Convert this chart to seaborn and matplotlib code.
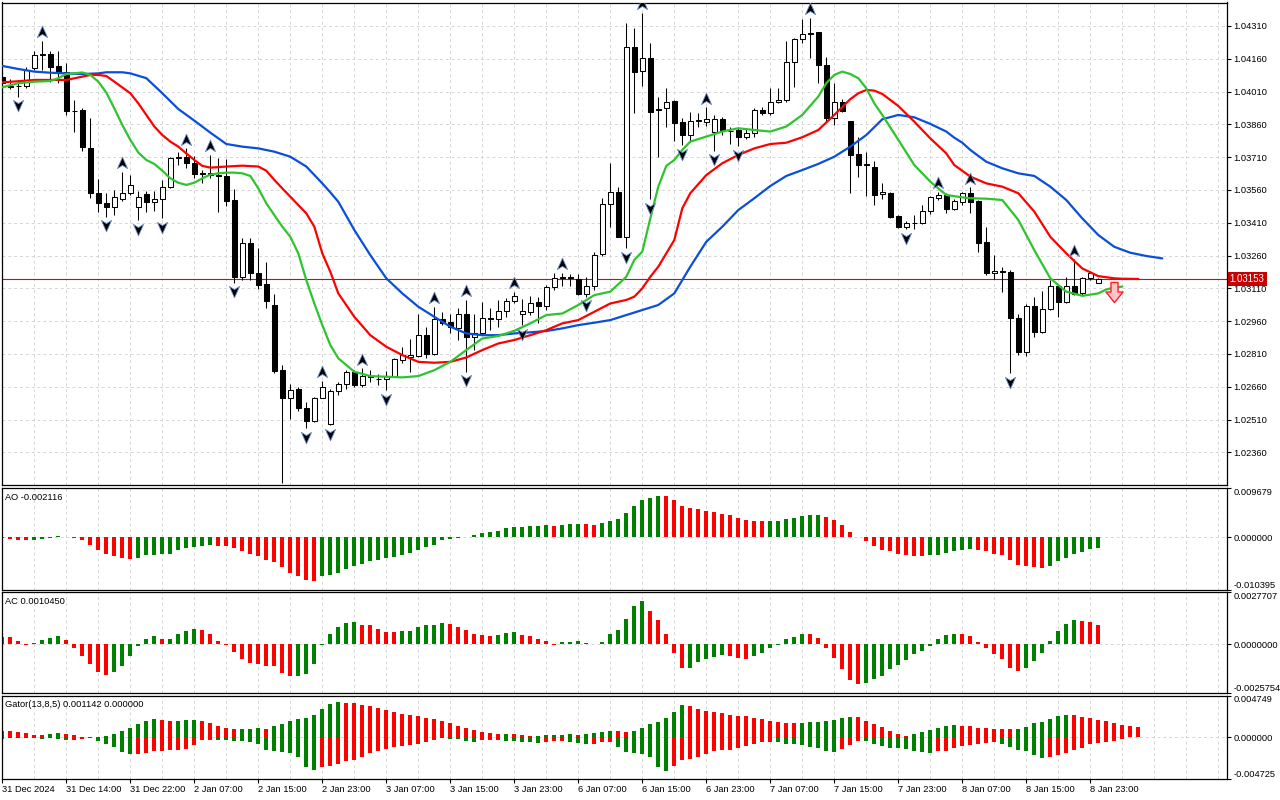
import numpy as np
import seaborn as sns
import matplotlib
matplotlib.use('Agg')
import matplotlib.pyplot as plt
from matplotlib.path import Path

# ---- EURUSD H1 candles, 31 Dec 2024 .. 8 Jan 2025 ----
open_ = [1.04078, 1.04035, 1.04036, 1.04036, 1.04116, 1.04177, 1.04180, 1.04127, 1.04097, 1.03923,
         1.03926, 1.03750, 1.03545, 1.03502, 1.03484, 1.03520, 1.03545, 1.03484, 1.03540, 1.03503,
         1.03517, 1.03572, 1.03705, 1.03712, 1.03685, 1.03631, 1.03636, 1.03627, 1.03624, 1.03514,
         1.03163, 1.03316, 1.03179, 1.03130, 1.03034, 1.02739, 1.02607, 1.02649, 1.02561, 1.02505,
         1.02611, 1.02489, 1.02642, 1.02675, 1.02726, 1.02668, 1.02709, 1.02697, 1.02695, 1.02710,
         1.02782, 1.02798, 1.02800, 1.02899, 1.02809, 1.02968, 1.02954, 1.02927, 1.02995, 1.02886,
         1.02904, 1.02976, 1.02970, 1.03008, 1.03052, 1.02995, 1.03003, 1.03046, 1.03029, 1.03115,
         1.03156, 1.03160, 1.03151, 1.03084, 1.03122, 1.03267, 1.03496, 1.03552, 1.03346, 1.04212,
         1.04106, 1.04162, 1.03925, 1.03933, 1.03967, 1.03869, 1.03811, 1.03877, 1.03872, 1.03827,
         1.03885, 1.03830, 1.03834, 1.03804, 1.03819, 1.03926, 1.03911, 1.03961, 1.03969, 1.04144,
         1.04249, 1.04273, 1.04280, 1.04132, 1.03888, 1.03961, 1.03875, 1.03724, 1.03674, 1.03667,
         1.03540, 1.03548, 1.03441, 1.03389, 1.03407, 1.03410, 1.03462, 1.03523, 1.03538, 1.03471,
         1.03506, 1.03548, 1.03511, 1.03322, 1.03182, 1.03189, 1.03186, 1.02973, 1.02820, 1.03029,
         1.02909, 1.03014, 1.03121, 1.03049, 1.03122, 1.03087, 1.03156, 1.03136]
high = [1.04086, 1.04069, 1.04063, 1.04124, 1.04193, 1.04243, 1.04193, 1.04193, 1.04142, 1.03972,
        1.03933, 1.03888, 1.03609, 1.03548, 1.03560, 1.03644, 1.03628, 1.03557, 1.03555, 1.03557,
        1.03606, 1.03712, 1.03735, 1.03750, 1.03715, 1.03651, 1.03720, 1.03705, 1.03700, 1.03563,
        1.03339, 1.03339, 1.03293, 1.03232, 1.03082, 1.02759, 1.02675, 1.02660, 1.02591, 1.02614,
        1.02686, 1.02652, 1.02683, 1.02736, 1.02739, 1.02744, 1.02736, 1.02718, 1.02732, 1.02790,
        1.02840, 1.02877, 1.02995, 1.02932, 1.03026, 1.03003, 1.02995, 1.03018, 1.03057, 1.02995,
        1.03049, 1.03018, 1.03057, 1.03064, 1.03095, 1.03060, 1.03075, 1.03072, 1.03125, 1.03179,
        1.03182, 1.03175, 1.03175, 1.03163, 1.03278, 1.03522, 1.03682, 1.03575, 1.04322, 1.04299,
        1.04368, 1.04231, 1.03984, 1.04025, 1.03972, 1.03888, 1.03915, 1.03914, 1.03938, 1.03903,
        1.03892, 1.03850, 1.03842, 1.03842, 1.03933, 1.03941, 1.04025, 1.04025, 1.04243, 1.04254,
        1.04342, 1.04345, 1.04284, 1.04170, 1.04051, 1.03975, 1.03877, 1.03804, 1.03735, 1.03692,
        1.03593, 1.03552, 1.03444, 1.03419, 1.03445, 1.03491, 1.03532, 1.03552, 1.03548, 1.03517,
        1.03552, 1.03572, 1.03514, 1.03392, 1.03262, 1.03209, 1.03194, 1.02995, 1.03038, 1.03072,
        1.03099, 1.03148, 1.03130, 1.03160, 1.03243, 1.03163, 1.03191, 1.03156]
low = [1.04040, 1.04020, 1.03987, 1.04025, 1.04109, 1.04109, 1.04055, 1.04048, 1.03903, 1.03827,
       1.03740, 1.03522, 1.03461, 1.03438, 1.03445, 1.03509, 1.03537, 1.03423, 1.03461, 1.03464,
       1.03430, 1.03567, 1.03674, 1.03659, 1.03613, 1.03593, 1.03613, 1.03458, 1.03488, 1.03136,
       1.03148, 1.03148, 1.03105, 1.03018, 1.02721, 1.02218, 1.02511, 1.02550, 1.02472, 1.02500,
       1.02607, 1.02485, 1.02622, 1.02652, 1.02660, 1.02660, 1.02683, 1.02668, 1.02645, 1.02706,
       1.02767, 1.02729, 1.02797, 1.02790, 1.02805, 1.02942, 1.02904, 1.02874, 1.02729, 1.02828,
       1.02896, 1.02919, 1.02935, 1.02980, 1.03041, 1.02942, 1.02988, 1.02950, 1.03011, 1.03102,
       1.03121, 1.03121, 1.03079, 1.03072, 1.03102, 1.03258, 1.03392, 1.03343, 1.03293, 1.03914,
       1.04036, 1.03517, 1.03709, 1.03850, 1.03785, 1.03766, 1.03781, 1.03850, 1.03854, 1.03740,
       1.03811, 1.03770, 1.03761, 1.03792, 1.03801, 1.03903, 1.03903, 1.03956, 1.03964, 1.04029,
       1.04234, 1.04162, 1.04048, 1.03872, 1.03857, 1.03918, 1.03548, 1.03621, 1.03532, 1.03491,
       1.03517, 1.03433, 1.03384, 1.03380, 1.03383, 1.03404, 1.03450, 1.03514, 1.03456, 1.03468,
       1.03491, 1.03456, 1.03278, 1.03171, 1.03151, 1.03095, 1.02724, 1.02805, 1.02800, 1.02886,
       1.02904, 1.03011, 1.02977, 1.03044, 1.03079, 1.03079, 1.03148, 1.03136]
close = [1.04048, 1.04032, 1.04034, 1.04109, 1.04177, 1.04182, 1.04124, 1.04094, 1.03923, 1.03921,
         1.03755, 1.03545, 1.03499, 1.03484, 1.03527, 1.03545, 1.03583, 1.03529, 1.03503, 1.03517,
         1.03572, 1.03705, 1.03711, 1.03685, 1.03631, 1.03636, 1.03627, 1.03624, 1.03511, 1.03163,
         1.03316, 1.03179, 1.03125, 1.03053, 1.02733, 1.02607, 1.02645, 1.02561, 1.02505, 1.02611,
         1.02660, 1.02642, 1.02675, 1.02726, 1.02668, 1.02709, 1.02706, 1.02694, 1.02710, 1.02785,
         1.02805, 1.02805, 1.02899, 1.02809, 1.02968, 1.02953, 1.02932, 1.02995, 1.02886, 1.02904,
         1.02976, 1.02970, 1.03008, 1.03052, 1.03075, 1.03008, 1.03044, 1.03029, 1.03118, 1.03156,
         1.03160, 1.03159, 1.03084, 1.03122, 1.03262, 1.03496, 1.03552, 1.03346, 1.04212, 1.04101,
         1.04162, 1.03918, 1.03929, 1.03961, 1.03868, 1.03811, 1.03877, 1.03878, 1.03885, 1.03885,
         1.03830, 1.03831, 1.03804, 1.03819, 1.03926, 1.03911, 1.03962, 1.03972, 1.04144, 1.04249,
         1.04273, 1.04277, 1.04132, 1.03888, 1.03961, 1.03923, 1.03720, 1.03674, 1.03677, 1.03537,
         1.03549, 1.03438, 1.03392, 1.03407, 1.03410, 1.03465, 1.03526, 1.03538, 1.03471, 1.03509,
         1.03545, 1.03506, 1.03319, 1.03179, 1.03191, 1.03186, 1.02973, 1.02820, 1.03029, 1.02912,
         1.03014, 1.03121, 1.03049, 1.03122, 1.03084, 1.03156, 1.03179, 1.03153]

# Alligator lines (bar index, value); jaw/teeth/lips run 8/5/3 bars past the last candle
jaw_idx = [0, 2, 4, 6, 8, 10, 12, 13, 15, 16, 18, 20, 22, 24, 26, 28, 30, 32, 34, 36,
           38, 40, 41, 42, 44, 46, 48, 50, 52, 54, 56, 58, 60, 62, 64, 66, 68, 70, 72, 74,
           76, 78, 80, 82, 84, 86, 88, 90, 92, 94, 96, 98, 100, 102, 104, 106, 108, 110, 112, 114,
           116, 118, 119, 120, 121, 123, 125, 127, 129, 131, 133, 135, 137, 139, 141, 143, 145]
jaw_val = [1.04127, 1.04113, 1.04101, 1.04096, 1.04093, 1.04090, 1.04093, 1.04098, 1.04098, 1.04093,
           1.04071, 1.04002, 1.03930, 1.03877, 1.03822, 1.03770, 1.03758, 1.03750, 1.03735, 1.03712,
           1.03667, 1.03590, 1.03549, 1.03506, 1.03377, 1.03262, 1.03156, 1.03087, 1.03026, 1.02980,
           1.02935, 1.02904, 1.02896, 1.02896, 1.02904, 1.02909, 1.02915, 1.02927, 1.02942, 1.02953,
           1.02965, 1.02988, 1.03011, 1.03034, 1.03087, 1.03209, 1.03323, 1.03392, 1.03468, 1.03522,
           1.03578, 1.03624, 1.03651, 1.03679, 1.03712, 1.03758, 1.03811, 1.03883, 1.03903, 1.03892,
           1.03862, 1.03827, 1.03799, 1.03776, 1.03743, 1.03689, 1.03659, 1.03636, 1.03624, 1.03575,
           1.03514, 1.03430, 1.03354, 1.03300, 1.03273, 1.03258, 1.03247]
teeth_idx = [0, 2, 4, 6, 8, 10, 11, 12, 13, 14, 16, 17, 18, 19, 20, 21, 22, 23, 24, 25,
             26, 28, 30, 32, 33, 34, 35, 36, 38, 39, 40, 41, 42, 44, 46, 48, 50, 52, 54, 56,
             58, 60, 62, 64, 66, 68, 70, 72, 74, 76, 78, 79, 80, 81, 82, 84, 85, 86, 88, 90,
             92, 94, 96, 98, 100, 102, 104, 106, 107, 108, 109, 110, 112, 114, 116, 118, 119, 121, 123, 125,
             127, 129, 131, 133, 135, 137, 139, 140, 142]
teeth_val = [1.04052, 1.04057, 1.04063, 1.04063, 1.04063, 1.04078, 1.04086, 1.04086, 1.04081, 1.04055,
             1.04002, 1.03956, 1.03903, 1.03850, 1.03811, 1.03781, 1.03758, 1.03727, 1.03697, 1.03670,
             1.03662, 1.03667, 1.03671, 1.03667, 1.03648, 1.03606, 1.03567, 1.03529, 1.03453, 1.03392,
             1.03270, 1.03186, 1.03087, 1.02980, 1.02896, 1.02843, 1.02805, 1.02774, 1.02770, 1.02774,
             1.02794, 1.02828, 1.02858, 1.02874, 1.02896, 1.02919, 1.02950, 1.02965, 1.03003, 1.03041,
             1.03057, 1.03072, 1.03110, 1.03163, 1.03209, 1.03331, 1.03476, 1.03545, 1.03628, 1.03682,
             1.03720, 1.03750, 1.03770, 1.03776, 1.03801, 1.03834, 1.03903, 1.03975, 1.04002, 1.04017,
             1.04014, 1.03999, 1.03944, 1.03872, 1.03796, 1.03727, 1.03674, 1.03621, 1.03590, 1.03575,
             1.03545, 1.03461, 1.03346, 1.03270, 1.03201, 1.03166, 1.03156, 1.03154, 1.03153]
lips_idx = [0, 2, 4, 6, 7, 8, 10, 11, 12, 13, 14, 15, 16, 17, 18, 19, 20, 21, 22, 23,
            24, 25, 26, 27, 28, 29, 30, 31, 32, 33, 34, 35, 36, 37, 38, 39, 40, 41, 42, 44,
            46, 48, 50, 52, 54, 56, 58, 60, 62, 64, 66, 68, 70, 72, 74, 76, 78, 79, 80, 81,
            82, 83, 84, 85, 86, 88, 90, 92, 94, 96, 98, 100, 102, 103, 104, 105, 106, 107, 108, 109,
            110, 112, 114, 116, 117, 118, 120, 121, 123, 125, 127, 129, 131, 133, 135, 137, 138, 139, 140]
lips_val = [1.04029, 1.04048, 1.04055, 1.04058, 1.04071, 1.04090, 1.04097, 1.04086, 1.04055, 1.04005,
            1.03933, 1.03857, 1.03789, 1.03731, 1.03697, 1.03679, 1.03648, 1.03613, 1.03593, 1.03583,
            1.03593, 1.03613, 1.03630, 1.03636, 1.03639, 1.03639, 1.03636, 1.03624, 1.03567, 1.03499,
            1.03445, 1.03392, 1.03346, 1.03270, 1.03148, 1.03041, 1.02942, 1.02851, 1.02790, 1.02729,
            1.02709, 1.02706, 1.02703, 1.02709, 1.02736, 1.02774, 1.02828, 1.02881, 1.02892, 1.02916,
            1.02950, 1.02988, 1.02995, 1.03034, 1.03079, 1.03095, 1.03163, 1.03240, 1.03278, 1.03430,
            1.03575, 1.03670, 1.03697, 1.03743, 1.03781, 1.03804, 1.03827, 1.03842, 1.03834, 1.03827,
            1.03850, 1.03903, 1.03987, 1.04048, 1.04086, 1.04101, 1.04090, 1.04071, 1.04025, 1.03956,
            1.03903, 1.03789, 1.03674, 1.03598, 1.03567, 1.03537, 1.03526, 1.03522, 1.03520, 1.03514,
            1.03423, 1.03285, 1.03156, 1.03095, 1.03076, 1.03087, 1.03105, 1.03114, 1.03118]

up_fractals = [5, 15, 23, 26, 40, 45, 54, 58, 64, 70, 80, 88, 101, 117, 121, 134]
down_fractals = [2, 13, 17, 20, 29, 35, 38, 41, 48, 58, 65, 73, 78, 81, 85, 89, 92, 113, 126]
signal_bar, signal_price = 139, 1.03092

ao = [-0.00020, -0.00033, -0.00046, -0.00065, -0.00046, -0.00026, -0.00013, 0.00020, 0.00007, -0.00007,
      -0.00065, -0.00150, -0.00249, -0.00327, -0.00379, -0.00419, -0.00425, -0.00405, -0.00360, -0.00347,
      -0.00340, -0.00327, -0.00249, -0.00216, -0.00196, -0.00170, -0.00157, -0.00164, -0.00177, -0.00216,
      -0.00268, -0.00327, -0.00379, -0.00445, -0.00497, -0.00595, -0.00706, -0.00759, -0.00837, -0.00857,
      -0.00772, -0.00739, -0.00700, -0.00621, -0.00562, -0.00523, -0.00464, -0.00445, -0.00419, -0.00386,
      -0.00347, -0.00307, -0.00249, -0.00190, -0.00150, -0.00065, -0.00033, -0.00010, 0.00010, 0.00039,
      0.00085, 0.00105, 0.00131, 0.00177, 0.00203, 0.00209, 0.00222, 0.00229, 0.00242, 0.00222,
      0.00242, 0.00255, 0.00262, 0.00255, 0.00242, 0.00281, 0.00327, 0.00366, 0.00477, 0.00615,
      0.00732, 0.00772, 0.00811, 0.00804, 0.00732, 0.00615, 0.00576, 0.00556, 0.00517, 0.00497,
      0.00458, 0.00438, 0.00379, 0.00340, 0.00320, 0.00314, 0.00320, 0.00327, 0.00360, 0.00379,
      0.00419, 0.00438, 0.00445, 0.00399, 0.00340, 0.00242, 0.00105, 0.00007, -0.00085, -0.00164,
      -0.00249, -0.00281, -0.00340, -0.00360, -0.00366, -0.00379, -0.00360, -0.00347, -0.00307, -0.00281,
      -0.00262, -0.00242, -0.00249, -0.00281, -0.00327, -0.00360, -0.00458, -0.00543, -0.00576, -0.00595,
      -0.00602, -0.00562, -0.00477, -0.00419, -0.00340, -0.00301, -0.00235, -0.002116]
ac = [0.00041, 0.00037, 0.00018, -0.00003, 0.00007, 0.00023, 0.00034, 0.00045, 0.00023, -0.00018,
      -0.00061, -0.00105, -0.00146, -0.00164, -0.00146, -0.00116, -0.00061, -0.00007, 0.00029, 0.00045,
      0.00029, 0.00030, 0.00055, 0.00071, 0.00082, 0.00078, 0.00055, 0.00018, -0.00002, -0.00039,
      -0.00075, -0.00098, -0.00102, -0.00114, -0.00116, -0.00151, -0.00169, -0.00168, -0.00159, -0.00105,
      -0.00004, 0.00055, 0.00093, 0.00114, 0.00116, 0.00103, 0.00102, 0.00082, 0.00066, 0.00064,
      0.00068, 0.00073, 0.00093, 0.00103, 0.00105, 0.00114, 0.00109, 0.00093, 0.00077, 0.00055,
      0.00050, 0.00045, 0.00050, 0.00061, 0.00066, 0.00050, 0.00045, 0.00029, 0.00018, -0.00002,
      0.00012, 0.00013, 0.00018, 0.00007, 0.00002, 0.00012, 0.00055, 0.00077, 0.00135, 0.00205,
      0.00232, 0.00178, 0.00130, 0.00055, -0.00045, -0.00125, -0.00123, -0.00093, -0.00077, -0.00066,
      -0.00055, -0.00061, -0.00071, -0.00077, -0.00061, -0.00045, -0.00018, -0.00002, 0.00029, 0.00039,
      0.00055, 0.00053, 0.00034, -0.00018, -0.00071, -0.00130, -0.00189, -0.00210, -0.00205, -0.00184,
      -0.00168, -0.00130, -0.00109, -0.00082, -0.00050, -0.00034, -0.00007, 0.00029, 0.00050, 0.00055,
      0.00053, 0.00045, 0.00012, -0.00018, -0.00050, -0.00077, -0.00125, -0.00141, -0.00125, -0.00087,
      -0.00045, 0.00018, 0.00071, 0.00109, 0.00130, 0.00125, 0.00119, 0.001045]
gator_up = [0.00071, 0.00068, 0.00056, 0.00045, 0.00030, 0.00026, 0.00041, 0.00045, 0.00038, 0.00026,
            0.00008, 0.00004, 0.00001, 0.00015, 0.00034, 0.00071, 0.00109, 0.00154, 0.00184, 0.00203,
            0.00192, 0.00184, 0.00188, 0.00192, 0.00196, 0.00184, 0.00158, 0.00132, 0.00102, 0.00090,
            0.00094, 0.00098, 0.00102, 0.00090, 0.00124, 0.00154, 0.00184, 0.00211, 0.00218, 0.00252,
            0.00320, 0.00376, 0.00399, 0.00391, 0.00387, 0.00365, 0.00353, 0.00331, 0.00308, 0.00286,
            0.00263, 0.00256, 0.00241, 0.00218, 0.00207, 0.00184, 0.00162, 0.00128, 0.00105, 0.00083,
            0.00060, 0.00049, 0.00038, 0.00041, 0.00034, 0.00026, 0.00015, 0.00019, 0.00023, 0.00026,
            0.00030, 0.00034, 0.00026, 0.00041, 0.00049, 0.00060, 0.00071, 0.00068, 0.00060, 0.00071,
            0.00105, 0.00150, 0.00173, 0.00218, 0.00286, 0.00365, 0.00353, 0.00320, 0.00297, 0.00286,
            0.00274, 0.00252, 0.00241, 0.00237, 0.00218, 0.00207, 0.00184, 0.00173, 0.00165, 0.00162,
            0.00165, 0.00169, 0.00173, 0.00184, 0.00196, 0.00218, 0.00229, 0.00226, 0.00184, 0.00150,
            0.00113, 0.00071, 0.00038, 0.00015, 0.00034, 0.00060, 0.00083, 0.00105, 0.00128, 0.00139,
            0.00132, 0.00128, 0.00105, 0.00102, 0.00098, 0.00094, 0.00090, 0.00094, 0.00117, 0.00162,
            0.00173, 0.00207, 0.00241, 0.00252, 0.00248, 0.00229, 0.00218, 0.00196, 0.00184, 0.00162,
            0.00139, 0.00128, 0.001142]
gator_lo = [-0.00015, -0.00011, -0.00008, -0.00011, -0.00008, -0.00019, -0.00011, -0.00015, -0.00030, -0.00026,
            -0.00019, -0.00004, -0.00041, -0.00071, -0.00109, -0.00162, -0.00192, -0.00188, -0.00173, -0.00154,
            -0.00150, -0.00147, -0.00143, -0.00135, -0.00086, -0.00034, -0.00026, -0.00030, -0.00034, -0.00038,
            -0.00041, -0.00049, -0.00079, -0.00143, -0.00150, -0.00162, -0.00173, -0.00218, -0.00331, -0.00368,
            -0.00331, -0.00327, -0.00305, -0.00263, -0.00256, -0.00218, -0.00173, -0.00150, -0.00128, -0.00105,
            -0.00094, -0.00090, -0.00071, -0.00049, -0.00026, -0.00011, -0.00019, -0.00023, -0.00045, -0.00049,
            -0.00034, -0.00030, -0.00026, -0.00041, -0.00045, -0.00049, -0.00053, -0.00060, -0.00049, -0.00045,
            -0.00041, -0.00049, -0.00068, -0.00075, -0.00071, -0.00056, -0.00049, -0.00105, -0.00162, -0.00173,
            -0.00188, -0.00218, -0.00331, -0.00387, -0.00320, -0.00252, -0.00241, -0.00218, -0.00184, -0.00154,
            -0.00147, -0.00139, -0.00124, -0.00094, -0.00071, -0.00056, -0.00049, -0.00053, -0.00071, -0.00079,
            -0.00083, -0.00105, -0.00124, -0.00150, -0.00162, -0.00135, -0.00083, -0.00038, -0.00041, -0.00071,
            -0.00094, -0.00117, -0.00124, -0.00128, -0.00150, -0.00162, -0.00173, -0.00154, -0.00150, -0.00117,
            -0.00094, -0.00083, -0.00079, -0.00060, -0.00049, -0.00071, -0.00105, -0.00139, -0.00150, -0.00196,
            -0.00229, -0.00226, -0.00196, -0.00173, -0.00139, -0.00117, -0.00071, -0.00060, -0.00049, -0.00038,
            -0.00023, 0.0, 0.0]

price_ticks = [1.02360, 1.02510, 1.02660, 1.02810, 1.02960, 1.03110, 1.03260,
               1.03410, 1.03560, 1.03710, 1.03860, 1.04010, 1.04160, 1.04310]
price_range = (1.02211, 1.04417)
ao_range = (-0.010395, 0.009679)
ac_range = (-0.0025754, 0.0027707)
gator_range = (-0.004725, 0.004749)
date_pos = [0, 8, 16, 24, 32, 40, 48, 56, 64, 72, 80, 88, 96, 104, 112, 120, 128, 136]
date_labels = ['31 Dec 2024', '31 Dec 14:00', '31 Dec 22:00', '2 Jan 07:00', '2 Jan 15:00',
               '2 Jan 23:00', '3 Jan 07:00', '3 Jan 15:00', '3 Jan 23:00', '6 Jan 07:00',
               '6 Jan 15:00', '6 Jan 23:00', '7 Jan 07:00', '7 Jan 15:00', '7 Jan 23:00',
               '8 Jan 07:00', '8 Jan 15:00', '8 Jan 23:00']

sns.set_theme(style='white')
plt.rcParams['font.family'] = ['Liberation Sans', 'DejaVu Sans']
FS = 6.7
GREEN = '#008000'
RED = '#ff0000'
GRID = '#d6d6d6'
DASH = (0, (3, 3))

fig = plt.figure(figsize=(12.8, 8), dpi=100, facecolor='white')


def panel(top, bottom):
    # pixel rows -> figure fraction, all panels share the same left/right edge
    left, right = 2, 1227
    return fig.add_axes([left / 1280, 1 - bottom / 800, (right - left) / 1280, (bottom - top) / 800])


ax = panel(2.5, 485)
ax_ao = panel(488, 590)
ax_ac = panel(592, 693)
ax_gt = panel(695.5, 779)

for a in (ax, ax_ao, ax_ac, ax_gt):
    a.set_facecolor('white')
    for k in range(4, 153, 4):
        a.axvline(k, color=GRID, lw=0.7, ls=DASH, zorder=0)
    for s in a.spines.values():
        s.set_color('black')
        s.set_linewidth(0.9)
    a.yaxis.tick_right()
    a.tick_params(axis='y', direction='out', length=3, width=0.8, pad=1.5,
                  labelsize=FS, colors='black', left=False, right=True)
    a.tick_params(axis='x', bottom=False, labelbottom=False)

# ---- price panel ----
o, h, l, c = (np.array(v) for v in (open_, high, low, close))
x = np.arange(len(c))
for p in price_ticks:
    ax.axhline(p, color=GRID, lw=0.7, ls=DASH, zorder=0)

ax.vlines(x, l, h, color='black', lw=0.75, zorder=2)
ax.bar(x, np.maximum(np.abs(c - o), 1e-6), bottom=np.minimum(o, c), width=0.62,
       color=np.where(c >= o, 'white', 'black'), edgecolor='black', linewidth=0.75, zorder=3)

sns.lineplot(x=jaw_idx, y=jaw_val, ax=ax, color='#0a4fd8', linewidth=1.6, zorder=4)
sns.lineplot(x=teeth_idx, y=teeth_val, ax=ax, color='#ff0000', linewidth=1.6, zorder=4)
sns.lineplot(x=lips_idx, y=lips_val, ax=ax, color='#2ec42e', linewidth=1.6, zorder=4)

up_path = Path([(0, 1), (0.8, -0.8), (0, -0.3), (-0.8, -0.8), (0, 1)],
               [Path.MOVETO, Path.LINETO, Path.LINETO, Path.LINETO, Path.CLOSEPOLY])
dn_path = Path([(0, -1), (0.8, 0.8), (0, 0.3), (-0.8, 0.8), (0, -1)],
               [Path.MOVETO, Path.LINETO, Path.LINETO, Path.LINETO, Path.CLOSEPOLY])
ax.scatter(up_fractals, h[up_fractals] + 0.0004, marker=up_path, s=85,
           facecolor='black', edgecolor='#6f8fd0', linewidths=0.6, zorder=5)
ax.scatter(down_fractals, l[down_fractals] - 0.0004, marker=dn_path, s=85,
           facecolor='black', edgecolor='#6f8fd0', linewidths=0.6, zorder=5)

sell_path = Path([(-0.35, 1), (0.35, 1), (0.35, 0.05), (0.85, 0.05), (0, -1),
                  (-0.85, 0.05), (-0.35, 0.05), (-0.35, 1)],
                 [Path.MOVETO] + [Path.LINETO] * 6 + [Path.CLOSEPOLY])
ax.scatter([signal_bar], [signal_price], marker=sell_path, s=210,
           facecolor='#ffc4cc', edgecolor='#ff2020', linewidths=1.0, zorder=6)

last = c[-1]
ax.axhline(last, color='#c81010', lw=0.8, zorder=1)
ax.annotate(f'{last:.5f}', xy=(1, last), xycoords=('axes fraction', 'data'),
            xytext=(2, 0), textcoords='offset points', ha='left', va='center',
            fontsize=7, color='white', annotation_clip=False, zorder=10,
            bbox=dict(boxstyle='square,pad=0.22', fc='#c80000', ec='none'))

ax.set_ylim(*price_range)
ax.set_yticks(price_ticks)
ax.set_yticklabels([f'{p:.5f}' for p in price_ticks])
ax.set_xlabel('')
ax.set_ylabel('')


def trend_colors(vals, first, magnitude=False):
    v = np.abs(vals) if magnitude else np.asarray(vals)
    return [first] + [GREEN if b > a else RED for a, b in zip(v[:-1], v[1:])]


def indicator_axis(a, rng, fmt, title):
    a.axhline(0, color=GRID, lw=0.7, ls=DASH, zorder=0)
    a.set_ylim(*rng)
    ticks = [rng[0], 0, rng[1]]
    a.set_yticks(ticks)
    a.set_yticklabels([fmt.format(t) for t in ticks])
    labs = a.get_yticklabels()
    labs[0].set_va('bottom')
    labs[2].set_va('top')
    a.annotate(title, xy=(0, 1), xycoords='axes fraction', xytext=(2.5, -6.5),
               textcoords='offset points', ha='left', va='center', fontsize=FS, color='black')


ax_ao.bar(x, ao, width=0.5, color=trend_colors(ao, GREEN), linewidth=0, zorder=2)
indicator_axis(ax_ao, ao_range, '{:.6f}', f'AO {ao[-1]:.6f}')

ax_ac.bar(x, ac, width=0.5, color=trend_colors(ac, RED), linewidth=0, zorder=2)
indicator_axis(ax_ac, ac_range, '{:.7f}', f'AC {ac[-1]:.7f}')

xg = np.arange(len(gator_up))
ax_gt.bar(xg, gator_up, width=0.5, color=trend_colors(gator_up, RED, True), linewidth=0, zorder=2)
ax_gt.bar(xg, gator_lo, width=0.5, color=trend_colors(gator_lo, RED, True), linewidth=0, zorder=2)
indicator_axis(ax_gt, gator_range, '{:.6f}',
               f'Gator(13,8,5) {gator_up[-1]:.6f} {abs(gator_lo[-1]):.6f}')

ax_gt.set_xticks(date_pos)
ax_gt.set_xticklabels(date_labels)
ax_gt.tick_params(axis='x', bottom=True, labelbottom=True, direction='out', length=3,
                  width=0.8, pad=1.5, labelsize=FS, colors='black')
for lab in ax_gt.get_xticklabels():
    lab.set_ha('left')

for a in (ax, ax_ao, ax_ac, ax_gt):
    a.set_xlim(-0.04, 153.09)

fig.savefig('out.png', dpi=100, facecolor='white')
